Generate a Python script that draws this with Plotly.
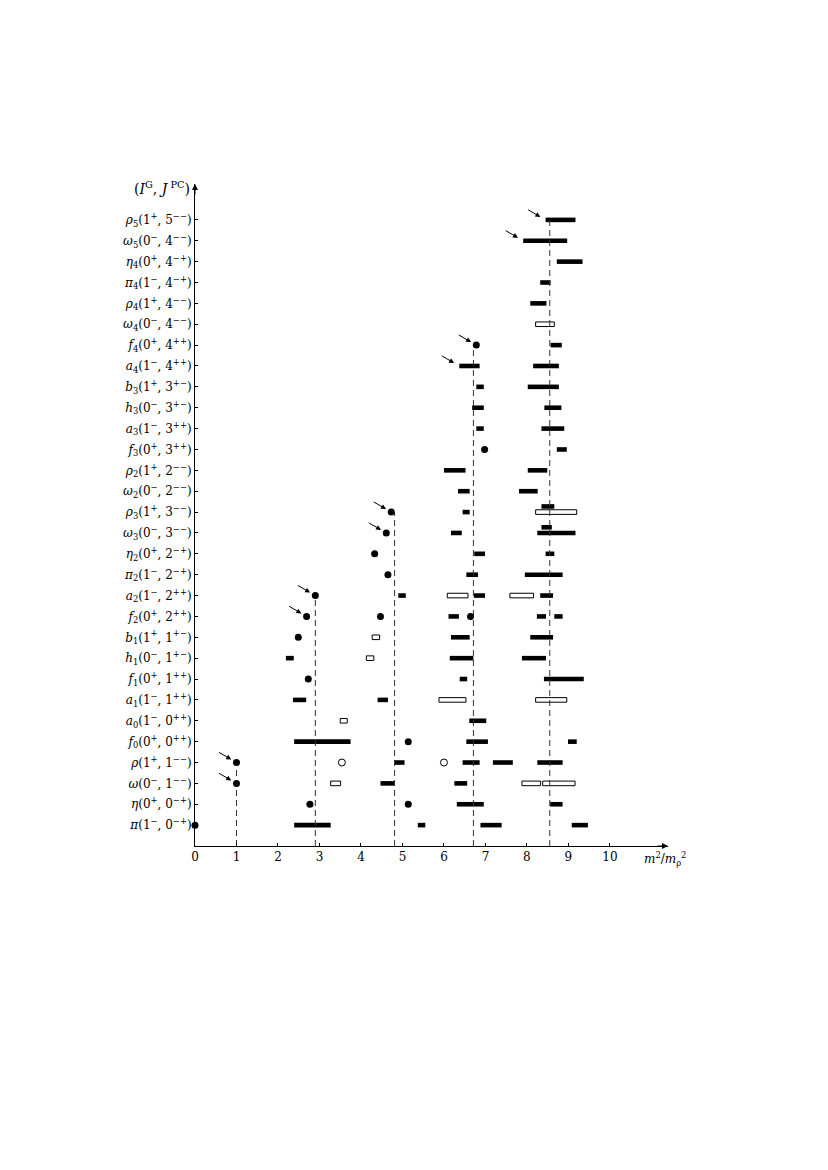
import plotly.graph_objects as go

# states, bottom to top
states = ["pi", "eta", "omega", "rho", "f0", "a0", "a1", "f1", "h1", "b1",
          "f2", "a2", "pi2", "eta2", "omega3", "rho3", "omega2", "rho2", "f3", "a3",
          "h3", "b3", "a4", "f4", "omega4", "rho4", "pi4", "eta4", "omega5", "rho5"]
state_labels = [
    "<i>π</i>(1<sup>−</sup>, 0<sup>−+</sup>)",
    "<i>η</i>(0<sup>+</sup>, 0<sup>−+</sup>)",
    "<i>ω</i>(0<sup>−</sup>, 1<sup>−−</sup>)",
    "<i>ρ</i>(1<sup>+</sup>, 1<sup>−−</sup>)",
    "<i>f</i><sub>0</sub>(0<sup>+</sup>, 0<sup>++</sup>)",
    "<i>a</i><sub>0</sub>(1<sup>−</sup>, 0<sup>++</sup>)",
    "<i>a</i><sub>1</sub>(1<sup>−</sup>, 1<sup>++</sup>)",
    "<i>f</i><sub>1</sub>(0<sup>+</sup>, 1<sup>++</sup>)",
    "<i>h</i><sub>1</sub>(0<sup>−</sup>, 1<sup>+−</sup>)",
    "<i>b</i><sub>1</sub>(1<sup>+</sup>, 1<sup>+−</sup>)",
    "<i>f</i><sub>2</sub>(0<sup>+</sup>, 2<sup>++</sup>)",
    "<i>a</i><sub>2</sub>(1<sup>−</sup>, 2<sup>++</sup>)",
    "<i>π</i><sub>2</sub>(1<sup>−</sup>, 2<sup>−+</sup>)",
    "<i>η</i><sub>2</sub>(0<sup>+</sup>, 2<sup>−+</sup>)",
    "<i>ω</i><sub>3</sub>(0<sup>−</sup>, 3<sup>−−</sup>)",
    "<i>ρ</i><sub>3</sub>(1<sup>+</sup>, 3<sup>−−</sup>)",
    "<i>ω</i><sub>2</sub>(0<sup>−</sup>, 2<sup>−−</sup>)",
    "<i>ρ</i><sub>2</sub>(1<sup>+</sup>, 2<sup>−−</sup>)",
    "<i>f</i><sub>3</sub>(0<sup>+</sup>, 3<sup>++</sup>)",
    "<i>a</i><sub>3</sub>(1<sup>−</sup>, 3<sup>++</sup>)",
    "<i>h</i><sub>3</sub>(0<sup>−</sup>, 3<sup>+−</sup>)",
    "<i>b</i><sub>3</sub>(1<sup>+</sup>, 3<sup>+−</sup>)",
    "<i>a</i><sub>4</sub>(1<sup>−</sup>, 4<sup>++</sup>)",
    "<i>f</i><sub>4</sub>(0<sup>+</sup>, 4<sup>++</sup>)",
    "<i>ω</i><sub>4</sub>(0<sup>−</sup>, 4<sup>−−</sup>)",
    "<i>ρ</i><sub>4</sub>(1<sup>+</sup>, 4<sup>−−</sup>)",
    "<i>π</i><sub>4</sub>(1<sup>−</sup>, 4<sup>−+</sup>)",
    "<i>η</i><sub>4</sub>(0<sup>+</sup>, 4<sup>−+</sup>)",
    "<i>ω</i><sub>5</sub>(0<sup>−</sup>, 4<sup>−−</sup>)",
    "<i>ρ</i><sub>5</sub>(1<sup>+</sup>, 5<sup>−−</sup>)",
]

# filled bars: mass range (m^2/m_rho^2)
solid_state = ["pi", "pi", "pi", "pi", "eta", "eta", "omega", "omega",
               "rho", "rho", "rho", "rho", "f0", "f0", "f0", "a0", "a1", "a1",
               "f1", "f1", "h1", "h1", "h1", "b1", "b1", "f2", "f2", "f2",
               "a2", "a2", "a2", "pi2", "pi2", "eta2", "eta2", "omega3", "omega3",
               "rho3", "omega2", "omega2", "rho2", "rho2", "f3", "a3", "a3",
               "h3", "h3", "b3", "b3", "a4", "a4", "f4", "rho4", "pi4", "eta4",
               "omega5", "rho5"]
solid_lo = [2.39, 5.37, 6.88, 9.08, 6.31, 8.56, 4.47, 6.25,
            4.80, 6.45, 7.18, 8.25, 2.39, 6.54, 8.99, 6.61, 2.36, 4.40,
            6.38, 8.41, 2.19, 6.14, 7.88, 6.17, 8.08, 6.11, 8.24, 8.66,
            4.90, 6.72, 8.32, 6.54, 7.95, 6.73, 8.45, 6.17, 8.25,
            6.45, 6.34, 7.81, 6.00, 8.02, 8.72, 6.78, 8.35,
            6.68, 8.42, 6.78, 8.02, 6.37, 8.15, 8.57, 8.08, 8.32, 8.72,
            7.91, 8.45]
solid_hi = [3.27, 5.55, 7.39, 9.47, 6.96, 8.86, 4.81, 6.56,
            5.05, 6.86, 7.66, 8.86, 3.75, 7.06, 9.20, 7.02, 2.68, 4.65,
            6.56, 9.37, 2.38, 6.71, 8.46, 6.62, 8.63, 6.36, 8.46, 8.86,
            5.08, 6.99, 8.63, 6.82, 8.86, 6.99, 8.66, 6.43, 9.17,
            6.62, 6.62, 8.26, 6.52, 8.49, 8.96, 6.96, 8.90,
            6.96, 8.83, 6.96, 8.77, 6.86, 8.77, 8.84, 8.47, 8.57, 9.34,
            8.97, 9.17]

# second filled bar drawn just above its row
upper_state = ["omega3", "rho3"]
upper_lo = [8.35, 8.35]
upper_hi = [8.60, 8.66]

# open bars
open_state = ["omega", "omega", "omega", "a0", "a1", "a1", "h1", "b1",
              "a2", "a2", "rho3", "omega4"]
open_lo = [3.27, 7.88, 8.38, 3.50, 5.88, 8.21, 4.13, 4.27, 6.08, 7.59, 8.21, 8.21]
open_hi = [3.51, 8.33, 9.16, 3.67, 6.53, 8.96, 4.31, 4.45, 6.58, 8.16, 9.20, 8.66]

# filled points
dot_state = ["pi", "eta", "eta", "omega", "rho", "f0", "f1", "b1", "f2", "f2", "f2",
             "a2", "pi2", "eta2", "omega3", "rho3", "f3", "f4"]
dot_mass = [0.0, 2.77, 5.14, 1.0, 1.0, 5.14, 2.73, 2.49, 2.69, 4.47, 6.64,
            2.90, 4.65, 4.33, 4.61, 4.73, 6.98, 6.78]

# open points
ring_state = ["rho", "rho"]
ring_mass = [3.54, 6.00]

# Regge trajectory guides (dashed) and marked states (arrows)
guide_mass = [1.0, 2.90, 4.81, 6.71, 8.55]
guide_top = ["rho", "a2", "rho3", "f4", "rho5"]
arrow_state = ["omega", "rho", "f2", "a2", "omega3", "rho3", "a4", "f4", "omega5", "rho5"]
arrow_mass = [1.0, 1.0, 2.69, 2.90, 4.61, 4.73, 6.37, 6.78, 7.91, 8.45]

row = {s: i + 1 for i, s in enumerate(states)}
BAR_H = 0.22
X_MAX, Y_MAX = 11.4, 31.72
font = "DejaVu Serif"

fig = go.Figure()

gx, gy = [], []
for m, s in zip(guide_mass, guide_top):
    gx += [m, m, None]
    gy += [0, row[s], None]
fig.add_trace(go.Scatter(x=gx, y=gy, mode="lines", hoverinfo="skip",
                         line=dict(color="#333", width=1, dash="6px,4px")))

fig.add_trace(go.Bar(orientation="h", y=[row[s] for s in solid_state],
                     base=solid_lo, x=[h - l for l, h in zip(solid_lo, solid_hi)],
                     width=BAR_H, marker=dict(color="black", line=dict(width=0)),
                     cliponaxis=False))
fig.add_trace(go.Bar(orientation="h", y=[row[s] + 0.27 for s in upper_state],
                     base=upper_lo, x=[h - l for l, h in zip(upper_lo, upper_hi)],
                     width=BAR_H, marker=dict(color="black", line=dict(width=0)),
                     cliponaxis=False))
fig.add_trace(go.Bar(orientation="h", y=[row[s] for s in open_state],
                     base=open_lo, x=[h - l for l, h in zip(open_lo, open_hi)],
                     width=BAR_H, marker=dict(color="white", line=dict(color="black", width=1)),
                     cliponaxis=False))

fig.add_trace(go.Scatter(x=dot_mass, y=[row[s] for s in dot_state], mode="markers",
                         marker=dict(color="black", size=7), cliponaxis=False))
fig.add_trace(go.Scatter(x=ring_mass, y=[row[s] for s in ring_state], mode="markers",
                         marker=dict(color="white", size=7, line=dict(color="black", width=1)),
                         cliponaxis=False))

for m, s in zip(arrow_mass, arrow_state):
    fig.add_annotation(x=m, y=row[s], ax=-19, ay=-11, text="", showarrow=True,
                       arrowhead=2, arrowsize=1, arrowwidth=1, arrowcolor="black",
                       standoff=6)

# axis arrowheads and titles
fig.add_annotation(x=X_MAX, y=0, ax=-12, ay=0, text="", showarrow=True,
                   arrowhead=2, arrowsize=1.2, arrowwidth=1, arrowcolor="black")
fig.add_annotation(x=0, y=Y_MAX, ax=0, ay=12, text="", showarrow=True,
                   arrowhead=2, arrowsize=1.2, arrowwidth=1, arrowcolor="black")
fig.add_annotation(x=X_MAX, y=0, xanchor="left", yanchor="top", xshift=-26, yshift=-2,
                   text="<i>m</i><sup>2</sup>/<i>m</i><sub>ρ</sub><sup>2</sup>",
                   showarrow=False, font=dict(family=font, size=12, color="black"))
fig.add_annotation(x=0, y=Y_MAX, xanchor="right", yanchor="middle", xshift=-3, yshift=-4,
                   text="(<i>I</i><sup>G</sup>, <i>J</i><sup> PC</sup>)",
                   showarrow=False, font=dict(family=font, size=14, color="black"))

fig.update_layout(
    width=828, height=1170,
    margin=dict(l=187, r=168, t=176, b=332),
    paper_bgcolor="white", plot_bgcolor="white",
    barmode="overlay", showlegend=False,
    font=dict(family=font, size=12, color="black"),
    xaxis=dict(range=[0, X_MAX], tickvals=list(range(11)), showgrid=False, zeroline=False,
               showline=True, linecolor="black", linewidth=1, ticks="inside",
               ticklen=3, tickcolor="black", tickfont=dict(color="black")),
    yaxis=dict(range=[0, Y_MAX], tickvals=[row[s] for s in states], ticktext=state_labels,
               showgrid=False, zeroline=False, showline=True, linecolor="black",
               linewidth=1, ticks="inside", ticklen=3, tickcolor="black",
               tickfont=dict(color="black")),
)

fig.write_html("out.html")
